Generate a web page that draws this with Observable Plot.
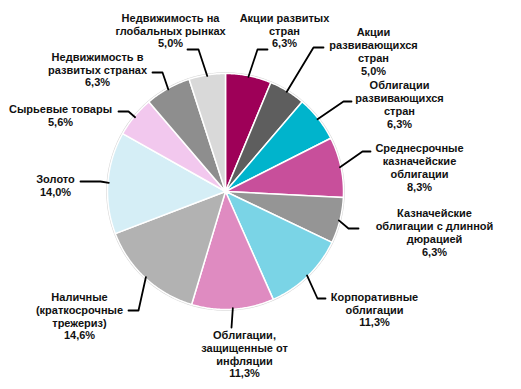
<!DOCTYPE html>
<html>
<head>
<meta charset="utf-8">
<script src="https://cdn.jsdelivr.net/npm/d3@7"></script>
<script src="https://cdn.jsdelivr.net/npm/@observablehq/plot@0.6"></script>
<style>
  html, body { margin: 0; padding: 0; background: #fff; }
  #chart { width: 521px; height: 389px; }
</style>
</head>
<body>
<div id="chart"></div>
<script>
// ---- data ----
const categories = [
  "Акции развитых\nстран",
  "Акции\nразвивающихся\nстран",
  "Облигации\nразвивающихся\nстран",
  "Среднесрочные\nказначейские\nоблигации",
  "Казначейские\nоблигации с длинной\nдюрацией",
  "Корпоративные\nоблигации",
  "Облигации,\nзащищенные от\nинфляции",
  "Наличные\n(краткосрочные\nтрежериз)",
  "Золото",
  "Сырьевые товары",
  "Недвижимость в\nразвитых странах",
  "Недвижимость на\nглобальных рынках"
];
const shares = [6.3, 5.0, 6.3, 8.3, 6.3, 11.3, 11.3, 14.6, 14.0, 5.6, 6.3, 5.0];
const colors = ["#9e0058", "#5e5e5e", "#00b4cc", "#c84f9b", "#959595", "#7ad4e6",
                "#df8bc1", "#b2b2b2", "#d5eef6", "#f2c8ee", "#8e8e8e", "#d9d9d9"];

// ---- layout (pixels relative to pie centre) ----
const R = 118;
const labelCenter = [[59,-161],[148,-140],[174,-87],[194,-24],[209,41],[149,118],
                     [19,162.5],[-146,124.5],[-170,-6.5],[-165,-76.5],[-128,-122],[-55,-161]];
const elbow = [[32,-142],[88,-144],[118,-90],[137,-40],[123,37],[92,107],
               [6,136],[-87,119],[-125,-10],[-97,-80],[-63,-119],[-27,-142]];
const hLen = [10,10,8,8,10,8,0,-10,-20,-10,-10,-11];

const fmt = v => d3.format(".1f")(v).replace(".", ",") + "%";

const arcs = d3.pie().sort(null).value(d => d)(shares);

// wedge polygons
const wedgePts = [];
arcs.forEach((a, i) => {
  wedgePts.push({id: i, x: 0, y: 0, c: colors[i]});
  const n = Math.max(2, Math.ceil((a.endAngle - a.startAngle) / 0.01));
  for (let k = 0; k <= n; k++) {
    const t = a.startAngle + (a.endAngle - a.startAngle) * k / n;
    wedgePts.push({id: i, x: R * Math.sin(t), y: -R * Math.cos(t), c: colors[i]});
  }
  wedgePts.push({id: i, x: 0, y: 0, c: colors[i]});
});

// outer ring
const ring = d3.range(0, 361).map(d => {
  const t = d * Math.PI / 180;
  return {x: (R + 0.5) * Math.sin(t), y: -(R + 0.5) * Math.cos(t)};
});

// leaders
const leaderPts = [];
arcs.forEach((a, i) => {
  const m = (a.startAngle + a.endAngle) / 2;
  leaderPts.push({id: i, x: (R - 1) * Math.sin(m), y: -(R - 1) * Math.cos(m)});
  leaderPts.push({id: i, x: elbow[i][0], y: elbow[i][1]});
  leaderPts.push({id: i, x: elbow[i][0] + hLen[i], y: elbow[i][1]});
});

const labels = categories.map((c, i) => ({
  text: c + "\n" + fmt(shares[i]),
  x: labelCenter[i][0],
  y: labelCenter[i][1]
}));

const chart = Plot.plot({
  width: 521,
  height: 389,
  margin: 0,
  x: {domain: [-225, 296], range: [0, 521], axis: null},
  y: {domain: [-191, 198], range: [0, 389], axis: null},
  color: {type: "identity"},
  style: {background: "#fff"},
  marks: [
    Plot.line(ring, {x: "x", y: "y", stroke: "#d4d4d4", strokeWidth: 1.5}),
    Plot.line(wedgePts, {x: "x", y: "y", z: "id", fill: "c", stroke: "#fff", strokeWidth: 1.5, strokeLinejoin: "round"}),
    Plot.line(leaderPts, {x: "x", y: "y", z: "id", stroke: "#000", strokeWidth: 1.8}),
    Plot.text(labels, {
      x: "x", y: "y", text: "text",
      textAnchor: "middle", lineAnchor: "middle", lineHeight: 1.17,
      fontSize: 11, fontWeight: "bold", fontFamily: "Liberation Sans, Arial, sans-serif",
      fill: "#111"
    })
  ]
});
document.getElementById("chart").appendChild(chart);
</script>
</body>
</html>
